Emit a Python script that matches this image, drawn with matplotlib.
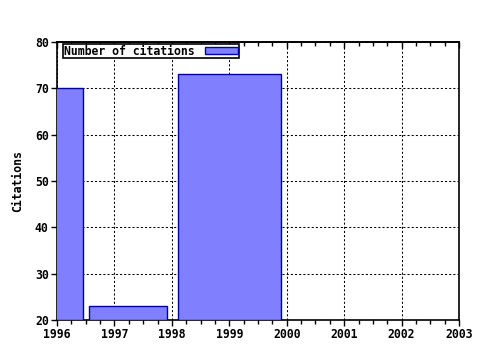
import numpy as np
import matplotlib.pyplot as plt
from matplotlib.ticker import MultipleLocator

# citations per period (bar spans)
bar_start = [1995.5, 1996.56, 1998.11]
bar_end = [1996.46, 1997.91, 1999.90]
citations = [70, 23, 73]
years = [1996, 1997, 1998, 1999, 2000, 2001, 2002, 2003]
yticks = [20, 30, 40, 50, 60, 70, 80]

font = {'family': 'DejaVu Sans Mono', 'weight': 'bold', 'size': 8.3}

fig = plt.figure(figsize=(4.8, 3.5), dpi=100)
ax = fig.add_axes([57/480, 30/350, 402/480, 278/350])

start = np.array(bar_start)
end = np.array(bar_end)
ax.bar(start, np.array(citations) - 20, width=end - start, bottom=20, align='edge',
       color='#8080ff', edgecolor='#0000a0', linewidth=1.0,
       label='Number of citations', zorder=3)

ax.set_xlim(1996, 2003)
ax.set_ylim(20, 80)
ax.set_xticks(years)
ax.set_yticks(yticks)
ax.xaxis.set_minor_locator(MultipleLocator(0.25))
ax.set_xticklabels([str(y) for y in years], fontdict=font)
ax.set_yticklabels([str(y) for y in yticks], fontdict=font)
ax.tick_params(axis='x', which='both', direction='out', top=False, bottom=True)
ax.tick_params(axis='x', which='major', length=4, width=1, pad=2)
ax.tick_params(axis='x', which='minor', length=3, width=1)
ax.tick_params(axis='y', which='major', direction='out', length=4, width=1, pad=2, right=False)
ax.grid(True, which='major', color='black', linestyle=(0, (2, 2)), linewidth=0.75, zorder=1)
for s in ax.spines.values():
    s.set_linewidth(1.2)
    s.set_color('black')

# top axis: ticks pointing inwards, no labels
top = ax.secondary_xaxis('top')
top.set_xticks(years)
top.xaxis.set_minor_locator(MultipleLocator(0.25))
top.tick_params(which='both', direction='in', labeltop=False, width=1)
top.tick_params(which='major', length=4)
top.tick_params(which='minor', length=3)
top.spines['top'].set_linewidth(1.2)

ax.set_ylabel('Citations', fontdict=font, labelpad=8)

leg = ax.legend(loc='upper left', bbox_to_anchor=(0.015, 0.993), prop=font,
                frameon=True, fancybox=False, edgecolor='black', framealpha=1,
                markerfirst=False, handlelength=2.9, handleheight=0.55,
                borderpad=0.05, borderaxespad=0, handletextpad=0.9)
leg.get_frame().set_linewidth(1.2)
leg.set_zorder(5)

fig.savefig('out.png', dpi=100)
